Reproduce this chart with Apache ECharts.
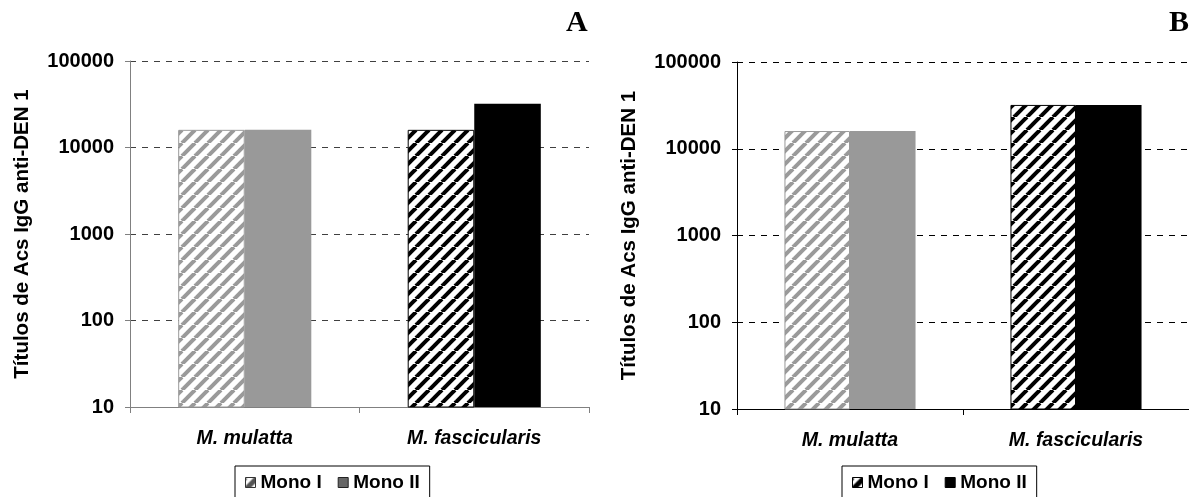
<!DOCTYPE html>
<html>
<head>
<meta charset="utf-8">
<script src="https://cdn.jsdelivr.net/npm/echarts@6/dist/echarts.min.js"></script>
<style>
  html, body { margin: 0; padding: 0; background: #fff; }
  #chart { width: 1189px; height: 497px; }
</style>
</head>
<body>
<div id="chart"></div>
<script>
// Anti-DEN 1 IgG antibody titers, two panels (A and B)
const categories = ['M. mulatta', 'M. fascicularis'];
const seriesNames = ['Mono I', 'Mono II'];
const yMin = 10;
const yMax = 100000;
const titersA_monoI = [16000, 16000];
const titersA_monoII = [16000, 32000];
const titersB_monoI = [16000, 32000];
const titersB_monoII = [16000, 32000];

const FONT = '"Liberation Sans", Arial, sans-serif';

// diagonal "/" hatch tile
function hatch(color, size, width) {
  const c = document.createElement('canvas');
  c.width = size; c.height = size;
  const g = c.getContext('2d');
  g.fillStyle = '#fff';
  g.fillRect(0, 0, size, size);
  g.strokeStyle = color;
  g.lineWidth = width;
  for (const k of [-1, 0, 1]) {
    g.beginPath();
    g.moveTo(k * size, size);
    g.lineTo(k * size + size, 0);
    g.stroke();
  }
  return { image: c, repeat: 'repeat' };
}

const grayHatch = hatch('#9a9a9a', 13, 4);
const blackHatch = hatch('#000', 13, 4);

// per-species style: M. mulatta in gray, M. fascicularis in black
function monoIData(values) {
  return values.map((v, i) => ({
    value: v,
    itemStyle: i === 0
      ? { color: grayHatch, borderColor: '#999', borderWidth: 1 }
      : { color: blackHatch, borderColor: '#000', borderWidth: 1 }
  }));
}
function monoIIData(values) {
  return values.map((v, i) => ({
    value: v,
    itemStyle: i === 0 ? { color: '#999999' } : { color: '#000000' }
  }));
}

function xAxis(grid, lineColor) {
  return {
    type: 'category', gridIndex: grid, data: categories,
    axisLine: { lineStyle: { color: lineColor, width: 1 } },
    axisTick: { show: true, length: 6, lineStyle: { color: lineColor } },
    axisLabel: { color: '#000', fontFamily: FONT, fontSize: 19.5, fontWeight: 'bold', fontStyle: 'italic', margin: 22 }
  };
}
function yAxis(grid, lineColor, dashColor) {
  return {
    type: 'log', logBase: 10, gridIndex: grid, min: yMin, max: yMax, interval: 1,
    name: 'Títulos de Acs IgG anti-DEN 1', nameLocation: 'middle', nameGap: 97, nameRotate: 90,
    nameTextStyle: { color: '#000', fontFamily: FONT, fontSize: 20.5, fontWeight: 'bold' },
    axisLine: { show: true, lineStyle: { color: lineColor, width: 1 } },
    axisTick: { show: true, length: 5, inside: false, lineStyle: { color: lineColor } },
    minorTick: { show: false },
    axisLabel: {
      color: '#000', fontFamily: FONT, fontSize: 20, fontWeight: 'bold', margin: 16,
      formatter: v => String(Math.round(v))
    },
    splitLine: { show: true, lineStyle: { color: dashColor, type: [6, 6], width: 1 } }
  };
}

function legend(left, monoIStyle, monoIIStyle) {
  return {
    left: left, top: 466, orient: 'horizontal',
    icon: 'rect', itemWidth: 10, itemHeight: 10, itemGap: 16,
    borderColor: '#000', borderWidth: 1, padding: [7, 10, 20, 10],
    selectedMode: false,
    textStyle: { color: '#000', fontFamily: FONT, fontSize: 19, fontWeight: 'bold' },
    data: [
      { name: seriesNames[0], itemStyle: monoIStyle },
      { name: seriesNames[1], itemStyle: monoIIStyle }
    ]
  };
}

const barCommon = { type: 'bar', barGap: '0%', barCategoryGap: '42%' };

const option = {
  animation: false,
  backgroundColor: '#fff',
  grid: [
    { left: 130, top: 61, width: 459, height: 346 },
    { left: 737, top: 62, width: 452, height: 347 }
  ],
  xAxis: [xAxis(0, '#808080'), xAxis(1, '#000')],
  yAxis: [yAxis(0, '#808080', '#404040'), yAxis(1, '#000', '#000')],
  legend: [
    legend(235,
      { color: hatch('#555', 12, 5), borderColor: '#333', borderWidth: 1 },
      { color: '#666', borderColor: '#222', borderWidth: 1 }),
    legend(842,
      { color: hatch('#000', 12, 5), borderColor: '#000', borderWidth: 1 },
      { color: '#000', borderColor: '#000', borderWidth: 1 })
  ],
  graphic: [
    { type: 'text', left: 566, top: 8, style: { text: 'A', font: 'bold 30px "Liberation Serif", "Times New Roman", serif', fill: '#000' } },
    { type: 'text', left: 1169, top: 8, style: { text: 'B', font: 'bold 30px "Liberation Serif", "Times New Roman", serif', fill: '#000' } }
  ],
  series: [
    Object.assign({}, barCommon, { name: seriesNames[0], xAxisIndex: 0, yAxisIndex: 0, data: monoIData(titersA_monoI),
      itemStyle: { color: '#999' } }),
    Object.assign({}, barCommon, { name: seriesNames[1], xAxisIndex: 0, yAxisIndex: 0, data: monoIIData(titersA_monoII),
      itemStyle: { color: '#666' } }),
    Object.assign({}, barCommon, { name: seriesNames[0], xAxisIndex: 1, yAxisIndex: 1, data: monoIData(titersB_monoI),
      itemStyle: { color: '#999' } }),
    Object.assign({}, barCommon, { name: seriesNames[1], xAxisIndex: 1, yAxisIndex: 1, data: monoIIData(titersB_monoII),
      itemStyle: { color: '#000' } })
  ]
};

const chart = echarts.init(document.getElementById('chart'), null, { renderer: 'canvas' });
chart.setOption(option);
</script>
</body>
</html>
